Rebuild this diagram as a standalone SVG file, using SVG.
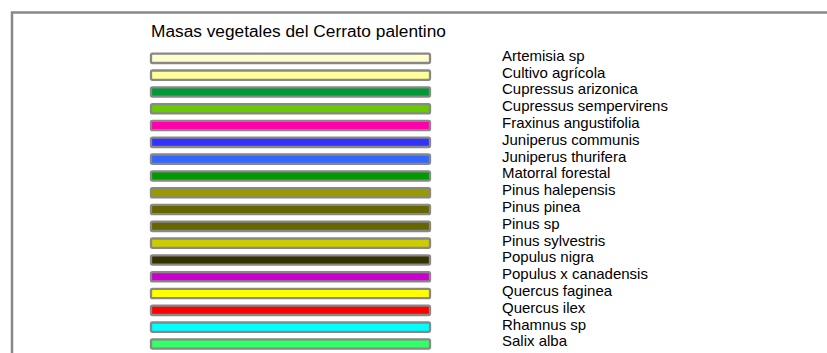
<svg xmlns="http://www.w3.org/2000/svg" width="827" height="353" viewBox="0 0 827 353">
<style>
.bar{stroke:#888888;stroke-width:2.3}
.lbl{font-family:"Liberation Sans",Arial,sans-serif;font-size:15px;fill:#000}
.title{font-family:"Liberation Sans",Arial,sans-serif;font-size:17.3px;fill:#000}
</style>
<rect width="827" height="353" fill="#ffffff"/>
<path d="M12,353 V12.5 H827" fill="none" stroke="#888888" stroke-width="2.5"/>
<text class="title" x="151" y="36.7">Masas vegetales del Cerrato palentino</text>
<g id="legend">
<g id="n1"><rect class="bar" x="151" y="53.7" width="279" height="9.3" rx="1.5" fill="#FFFFCC"/><text class="lbl" x="502" y="60.7">Artemisia sp</text></g>
<g id="n2"><rect class="bar" x="151" y="70.5" width="279" height="9.3" rx="1.5" fill="#FFFF99"/><text class="lbl" x="502" y="77.5">Cultivo agrícola</text></g>
<g id="n3"><rect class="bar" x="151" y="87.3" width="279" height="9.3" rx="1.5" fill="#009933"/><text class="lbl" x="502" y="94.3">Cupressus arizonica</text></g>
<g id="n4"><rect class="bar" x="151" y="104.1" width="279" height="9.3" rx="1.5" fill="#66CC00"/><text class="lbl" x="502" y="111.1">Cupressus sempervirens</text></g>
<g id="n5"><rect class="bar" x="151" y="120.9" width="279" height="9.3" rx="1.5" fill="#FF00AA"/><text class="lbl" x="502" y="127.9">Fraxinus angustifolia</text></g>
<g id="n6"><rect class="bar" x="151" y="137.7" width="279" height="9.3" rx="1.5" fill="#3333FF"/><text class="lbl" x="502" y="144.7">Juniperus communis</text></g>
<g id="n7"><rect class="bar" x="151" y="154.5" width="279" height="9.3" rx="1.5" fill="#3366FF"/><text class="lbl" x="502" y="161.5">Juniperus thurifera</text></g>
<g id="n8"><rect class="bar" x="151" y="171.3" width="279" height="9.3" rx="1.5" fill="#009900"/><text class="lbl" x="502" y="178.3">Matorral forestal</text></g>
<g id="n9"><rect class="bar" x="151" y="188.1" width="279" height="9.3" rx="1.5" fill="#999900"/><text class="lbl" x="502" y="195.1">Pinus halepensis</text></g>
<g id="n10"><rect class="bar" x="151" y="204.9" width="279" height="9.3" rx="1.5" fill="#666600"/><text class="lbl" x="502" y="211.9">Pinus pinea</text></g>
<g id="n11"><rect class="bar" x="151" y="221.7" width="279" height="9.3" rx="1.5" fill="#666600"/><text class="lbl" x="502" y="228.7">Pinus sp</text></g>
<g id="n12"><rect class="bar" x="151" y="238.5" width="279" height="9.3" rx="1.5" fill="#CCCC00"/><text class="lbl" x="502" y="245.5">Pinus sylvestris</text></g>
<g id="n13"><rect class="bar" x="151" y="255.3" width="279" height="9.3" rx="1.5" fill="#333300"/><text class="lbl" x="502" y="262.3">Populus nigra</text></g>
<g id="n14"><rect class="bar" x="151" y="272.1" width="279" height="9.3" rx="1.5" fill="#CC00CC"/><text class="lbl" x="502" y="279.1">Populus x canadensis</text></g>
<g id="n15"><rect class="bar" x="151" y="288.9" width="279" height="9.3" rx="1.5" fill="#FFFF00"/><text class="lbl" x="502" y="295.9">Quercus faginea</text></g>
<g id="n16"><rect class="bar" x="151" y="305.7" width="279" height="9.3" rx="1.5" fill="#FF0000"/><text class="lbl" x="502" y="312.7">Quercus ilex</text></g>
<g id="n17"><rect class="bar" x="151" y="322.5" width="279" height="9.3" rx="1.5" fill="#00FFFF"/><text class="lbl" x="502" y="329.5">Rhamnus sp</text></g>
<g id="n18"><rect class="bar" x="151" y="339.3" width="279" height="9.3" rx="1.5" fill="#33FF66"/><text class="lbl" x="502" y="346.3">Salix alba</text></g>
</g>
<g id="connectors"/>
</svg>
